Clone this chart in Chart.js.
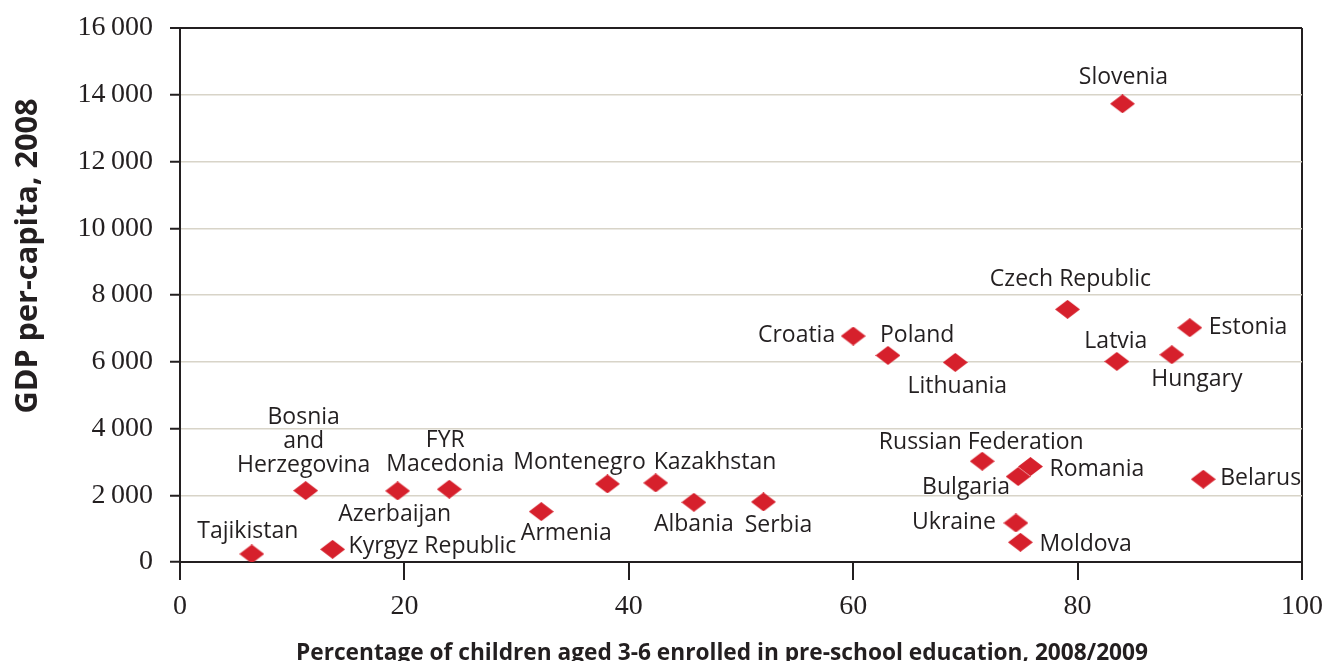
<!DOCTYPE html>
<html>
<head>
<meta charset="utf-8">
<title>GDP per-capita vs pre-school enrolment</title>
<script src="https://cdn.jsdelivr.net/npm/chart.js@4.4.1/dist/chart.umd.min.js"></script>
<style>
  html, body { margin: 0; padding: 0; background: #ffffff; }
  #wrap { width: 1327px; height: 661px; }
</style>
</head>
<body>
<div id="wrap"><canvas id="scatterChart" width="1327" height="661"></canvas></div>
<script>
// data
const countries = [
  "Tajikistan", "Kyrgyz Republic", "Bosnia and Herzegovina", "Azerbaijan",
  "FYR Macedonia", "Armenia", "Montenegro", "Kazakhstan", "Albania", "Serbia",
  "Croatia", "Poland", "Lithuania", "Russian Federation", "Bulgaria", "Romania",
  "Ukraine", "Moldova", "Czech Republic", "Slovenia", "Latvia", "Hungary",
  "Estonia", "Belarus"
];
const enrolment = [
  6.4, 13.6, 11.2, 19.4,
  24.0, 32.2, 38.1, 42.4, 45.8, 52.0,
  60.0, 63.1, 69.1, 71.5, 74.7, 75.8,
  74.5, 74.9, 79.1, 84.0, 83.5, 88.4,
  90.0, 91.2
];
const gdpPerCapita = [
  240, 380, 2140, 2130,
  2180, 1510, 2340, 2370, 1790, 1800,
  6770, 6190, 5980, 3020, 2560, 2860,
  1170, 590, 7570, 13730, 6010, 6210,
  7020, 2480
];
const xTickLabels = ["0", "20", "40", "60", "80", "100"];
const yTickLabels = ["0", "2\u2009000", "4\u2009000", "6\u2009000", "8\u2009000",
  "10\u2009000", "12\u2009000", "14\u2009000", "16\u2009000"];

const xTitle = "Percentage of children aged 3-6 enrolled in pre-school education, 2008/2009";
const yTitle = "GDP per-capita, 2008";

// where each label sits relative to its marker: [dx, dy(baseline of last line), align, lines]
const labelPlacement = {
  "Tajikistan": [-4, -16, "center"],
  "Kyrgyz Republic": [16, 4, "left"],
  "Bosnia and Herzegovina": [-2, -19, "center", ["Bosnia", "and", "Herzegovina"]],
  "Azerbaijan": [-3, 30, "center"],
  "FYR Macedonia": [-4, -18, "center", ["FYR", "Macedonia"]],
  "Armenia": [25, 28, "center"],
  "Montenegro": [-28, -15, "center"],
  "Kazakhstan": [-2, -14, "left"],
  "Albania": [0, 29, "center"],
  "Serbia": [15, 30, "center"],
  "Croatia": [-18, 6, "right"],
  "Poland": [-8, -13, "left"],
  "Lithuania": [2, 31, "center"],
  "Russian Federation": [-1, -12, "center"],
  "Bulgaria": [-8, 17, "right"],
  "Romania": [19, 9, "left"],
  "Ukraine": [-20, 6, "right"],
  "Moldova": [19, 9, "left"],
  "Czech Republic": [3, -23, "center"],
  "Slovenia": [1, -20, "center"],
  "Latvia": [-1, -13, "center"],
  "Hungary": [25, 31, "center"],
  "Estonia": [19, 6, "left"],
  "Belarus": [17, 6, "left"]
};

const INK = "#231f20";
const RED = "#d6202c";
const GRID = "#d8d4c8";

function makeDiamond(w, h, color) {
  const c = document.createElement("canvas");
  c.width = w;
  c.height = h;
  const g = c.getContext("2d");
  g.fillStyle = color;
  g.beginPath();
  g.moveTo(w / 2, 0);
  g.lineTo(w, h / 2);
  g.lineTo(w / 2, h);
  g.lineTo(0, h / 2);
  g.closePath();
  g.fill();
  return c;
}

const diamond = makeDiamond(25, 19, RED);

const pointLabels = {
  id: "pointLabels",
  afterDatasetsDraw(chart) {
    const { ctx, scales } = chart;
    ctx.save();
    ctx.font = "23px 'Open Sans'";
    ctx.fillStyle = INK;
    ctx.textBaseline = "alphabetic";
    countries.forEach((name, i) => {
      const p = labelPlacement[name];
      const px = scales.x.getPixelForValue(enrolment[i]);
      const py = scales.y.getPixelForValue(gdpPerCapita[i]);
      const lines = p[3] || [name];
      ctx.textAlign = p[2];
      lines.forEach((line, j) => {
        const up = (lines.length - 1 - j) * 24;
        ctx.fillText(line, px + p[0], py + p[1] - up);
      });
    });
    ctx.restore();
  }
};

// axis titles drawn by hand so they sit where the reference puts them
const axisTitles = {
  id: "axisTitles",
  afterDraw(chart) {
    const { ctx } = chart;
    ctx.save();
    ctx.fillStyle = INK;
    ctx.textAlign = "center";
    ctx.textBaseline = "alphabetic";

    ctx.font = "bold 24px 'Open Sans'";
    let w = ctx.measureText(xTitle).width;
    ctx.save();
    ctx.translate(722, 660);
    ctx.scale(852 / w, 1);
    ctx.fillText(xTitle, 0, 0);
    ctx.restore();

    ctx.font = "bold 30px 'Open Sans'";
    w = ctx.measureText(yTitle).width;
    ctx.save();
    ctx.translate(37, 256);
    ctx.rotate(-Math.PI / 2);
    ctx.scale(315 / w, 1);
    ctx.fillText(yTitle, 0, 0);
    ctx.restore();

    ctx.restore();
  }
};

// pin the plot box: the scales should not push it around with label padding
function noScalePadding(scale) {
  scale.paddingTop = 0;
  scale.paddingBottom = 0;
  scale.paddingLeft = 0;
  scale.paddingRight = 0;
}

const ctx = document.getElementById("scatterChart").getContext("2d");

new Chart(ctx, {
  type: "scatter",
  data: {
    datasets: [
      {
        label: "Countries",
        data: countries.map((c, i) => ({ x: enrolment[i], y: gdpPerCapita[i] })),
        pointStyle: diamond,
        pointRadius: 10,
        pointHoverRadius: 10,
        backgroundColor: RED,
        borderColor: RED,
      },
    ],
  },
  options: {
    responsive: false,
    animation: false,
    layout: { padding: { top: 28, right: 25, left: 0, bottom: 0 } },
    plugins: {
      legend: { display: false },
      tooltip: { enabled: false },
    },
    scales: {
      x: {
        type: "linear",
        min: 0,
        max: 100,
        afterFit: (scale) => {
          scale.height = 99;
          noScalePadding(scale);
        },
        ticks: {
          stepSize: 20,
          padding: 10,
          color: INK,
          font: { family: "'Liberation Serif', serif", size: 28 },
          maxRotation: 0,
          callback: (v) => xTickLabels[v / 20],
        },
        grid: {
          color: (c) => (c.tick && c.tick.value === 100 ? INK : "rgba(0,0,0,0)"),
          lineWidth: 2,
          tickLength: 18,
          tickColor: INK,
          tickWidth: 2,
        },
        border: { color: INK, width: 2 },
      },
      y: {
        min: 0,
        max: 16000,
        afterFit: (scale) => {
          scale.width = 180;
          noScalePadding(scale);
        },
        ticks: {
          stepSize: 2000,
          padding: 17,
          color: INK,
          font: { family: "'Liberation Serif', serif", size: 28 },
          callback: (v) => yTickLabels[v / 2000],
        },
        grid: {
          color: (c) => (c.tick && c.tick.value === 16000 ? INK : GRID),
          lineWidth: (c) => (c.tick && c.tick.value === 16000 ? 2 : 1.5),
          tickLength: 10,
          tickColor: INK,
          tickWidth: 2,
        },
        border: { color: INK, width: 2 },
      },
    },
  },
  plugins: [pointLabels, axisTitles],
});
</script>
</body>
</html>
